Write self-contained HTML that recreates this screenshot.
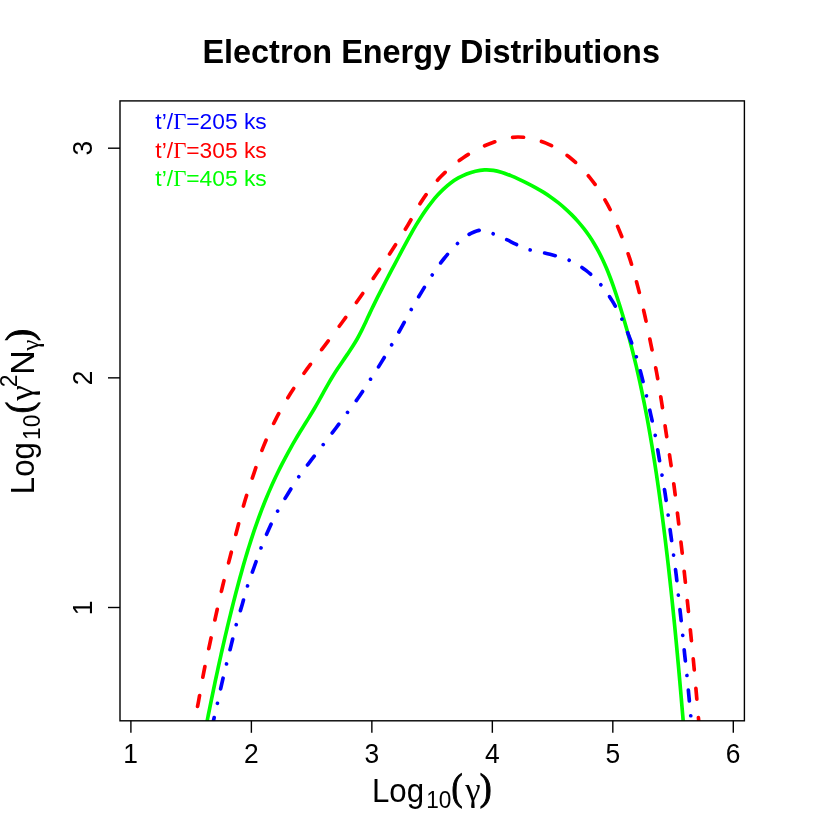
<!DOCTYPE html>
<html><head><meta charset="utf-8"><title>Electron Energy Distributions</title>
<style>
html,body{margin:0;padding:0;background:#fff;}
svg{display:block;will-change:transform;}
text{font-family:"Liberation Sans",sans-serif;fill:#000;}
text.sym{font-family:"Liberation Serif",serif;}
</style></head><body>
<svg width="822" height="822" viewBox="0 0 822 822">
<rect x="0" y="0" width="822" height="822" fill="#ffffff"/>
<defs><clipPath id="clip"><rect x="120.0" y="100.9" width="624.40" height="620.20"/></clipPath></defs>
<g clip-path="url(#clip)" fill="none" stroke-width="3.67" stroke-linecap="round" stroke-linejoin="round">
<path d="M206.15,725.98 C206.44,724.49 207.33,720.00 207.93,717.01 C208.52,714.02 209.12,711.03 209.73,708.05 C210.33,705.06 210.94,702.07 211.55,699.09 C212.16,696.11 212.78,693.13 213.40,690.15 C214.02,687.16 214.64,684.19 215.27,681.21 C215.90,678.23 216.54,675.25 217.18,672.28 C217.82,669.31 218.47,666.33 219.12,663.36 C219.77,660.39 220.43,657.42 221.09,654.45 C221.75,651.48 222.42,648.52 223.10,645.55 C223.77,642.58 224.46,639.62 225.15,636.66 C225.84,633.69 226.53,630.73 227.24,627.77 C227.94,624.81 228.65,621.85 229.37,618.90 C230.09,615.94 230.81,612.99 231.55,610.03 C232.28,607.08 233.02,604.13 233.77,601.17 C234.52,598.22 235.28,595.27 236.05,592.33 C236.82,589.38 237.60,586.43 238.38,583.49 C239.17,580.54 239.97,577.60 240.78,574.66 C241.59,571.72 242.41,568.79 243.25,565.86 C244.09,562.93 244.94,560.00 245.80,557.08 C246.67,554.16 247.55,551.24 248.45,548.33 C249.35,545.42 250.27,542.51 251.20,539.62 C252.14,536.72 253.09,533.83 254.07,530.94 C255.05,528.06 256.04,525.18 257.06,522.32 C258.08,519.45 259.12,516.59 260.19,513.74 C261.25,510.89 262.34,508.05 263.46,505.22 C264.58,502.39 265.72,499.57 266.89,496.77 C268.05,493.96 269.25,491.16 270.48,488.38 C271.70,485.59 272.95,482.82 274.23,480.06 C275.51,477.30 276.82,474.55 278.16,471.81 C279.49,469.08 280.85,466.35 282.24,463.64 C283.63,460.94 285.04,458.24 286.48,455.56 C287.92,452.87 289.38,450.20 290.87,447.55 C292.36,444.89 293.88,442.25 295.42,439.63 C296.96,437.00 298.53,434.39 300.11,431.79 C301.69,429.19 303.32,426.62 304.92,424.03 C306.53,421.45 308.15,418.88 309.74,416.29 C311.32,413.69 312.90,411.09 314.43,408.47 C315.96,405.84 317.45,403.19 318.94,400.54 C320.43,397.89 321.89,395.22 323.37,392.56 C324.86,389.90 326.33,387.23 327.85,384.59 C329.36,381.95 330.89,379.32 332.48,376.72 C334.07,374.13 335.71,371.56 337.38,369.01 C339.05,366.47 340.79,363.96 342.51,361.44 C344.22,358.92 345.98,356.42 347.68,353.90 C349.38,351.37 351.08,348.85 352.71,346.28 C354.34,343.71 355.93,341.12 357.43,338.48 C358.93,335.83 360.33,333.13 361.69,330.41 C363.06,327.69 364.34,324.91 365.64,322.16 C366.93,319.40 368.19,316.61 369.49,313.86 C370.79,311.10 372.10,308.36 373.43,305.62 C374.76,302.88 376.11,300.16 377.47,297.44 C378.83,294.73 380.20,292.02 381.58,289.31 C382.97,286.61 384.36,283.91 385.76,281.22 C387.17,278.52 388.58,275.83 389.99,273.14 C391.41,270.45 392.83,267.77 394.26,265.08 C395.68,262.39 397.11,259.70 398.54,257.00 C399.96,254.31 401.39,251.61 402.82,248.91 C404.26,246.22 405.69,243.52 407.15,240.83 C408.61,238.15 410.07,235.47 411.58,232.81 C413.08,230.16 414.60,227.51 416.17,224.90 C417.74,222.29 419.33,219.70 420.98,217.15 C422.64,214.60 424.33,212.08 426.09,209.61 C427.85,207.14 429.65,204.70 431.54,202.32 C433.42,199.95 435.36,197.60 437.40,195.36 C439.44,193.11 441.54,190.91 443.76,188.85 C445.98,186.79 448.28,184.81 450.71,183.00 C453.13,181.18 455.67,179.47 458.33,177.97 C460.99,176.46 463.80,175.09 466.66,173.96 C469.51,172.83 472.48,171.87 475.44,171.20 C478.40,170.52 481.43,170.06 484.41,169.91 C487.40,169.77 490.40,169.90 493.36,170.32 C496.31,170.74 499.23,171.54 502.13,172.42 C505.02,173.31 507.88,174.49 510.72,175.65 C513.56,176.81 516.37,178.08 519.15,179.36 C521.93,180.63 524.69,181.94 527.41,183.30 C530.13,184.67 532.82,186.07 535.47,187.54 C538.12,189.01 540.74,190.53 543.31,192.14 C545.88,193.74 548.42,195.40 550.90,197.15 C553.38,198.90 555.82,200.72 558.21,202.62 C560.59,204.52 562.93,206.50 565.20,208.54 C567.47,210.58 569.69,212.70 571.84,214.87 C573.99,217.05 576.08,219.29 578.10,221.59 C580.11,223.88 582.06,226.24 583.93,228.65 C585.79,231.05 587.59,233.52 589.30,236.02 C591.01,238.53 592.63,241.09 594.19,243.69 C595.74,246.28 597.22,248.93 598.63,251.60 C600.05,254.28 601.39,256.99 602.68,259.73 C603.98,262.48 605.20,265.25 606.39,268.05 C607.57,270.85 608.70,273.68 609.80,276.52 C610.90,279.36 611.94,282.23 612.97,285.10 C613.99,287.98 614.97,290.87 615.94,293.77 C616.91,296.66 617.84,299.57 618.77,302.48 C619.69,305.39 620.60,308.31 621.49,311.23 C622.38,314.14 623.25,317.07 624.10,319.99 C624.96,322.92 625.80,325.85 626.62,328.78 C627.44,331.72 628.25,334.65 629.04,337.59 C629.83,340.54 630.61,343.48 631.37,346.43 C632.13,349.38 632.87,352.33 633.61,355.28 C634.34,358.24 635.05,361.19 635.76,364.15 C636.46,367.11 637.15,370.08 637.82,373.04 C638.50,376.01 639.16,378.98 639.81,381.95 C640.46,384.92 641.10,387.90 641.72,390.88 C642.35,393.85 642.96,396.83 643.56,399.82 C644.17,402.80 644.75,405.78 645.33,408.77 C645.91,411.76 646.48,414.75 647.04,417.74 C647.59,420.73 648.14,423.72 648.68,426.72 C649.22,429.72 649.74,432.71 650.26,435.71 C650.78,438.71 651.29,441.71 651.78,444.72 C652.28,447.72 652.78,450.72 653.26,453.73 C653.74,456.74 654.21,459.74 654.68,462.75 C655.15,465.76 655.61,468.77 656.06,471.78 C656.51,474.79 656.96,477.80 657.39,480.82 C657.83,483.83 658.26,486.85 658.69,489.86 C659.12,492.88 659.54,495.89 659.95,498.91 C660.37,501.93 660.77,504.94 661.18,507.96 C661.58,510.98 661.98,514.00 662.38,517.02 C662.77,520.04 663.16,523.06 663.54,526.08 C663.93,529.10 664.30,532.12 664.68,535.14 C665.05,538.16 665.42,541.18 665.79,544.21 C666.15,547.23 666.51,550.25 666.87,553.28 C667.23,556.30 667.58,559.33 667.93,562.35 C668.27,565.38 668.62,568.40 668.96,571.43 C669.30,574.45 669.63,577.48 669.96,580.51 C670.30,583.53 670.62,586.56 670.95,589.59 C671.27,592.61 671.59,595.64 671.91,598.67 C672.23,601.70 672.54,604.73 672.85,607.76 C673.16,610.79 673.47,613.82 673.77,616.85 C674.07,619.88 674.37,622.91 674.67,625.94 C674.97,628.97 675.26,632.00 675.55,635.03 C675.85,638.06 676.13,641.09 676.42,644.12 C676.71,647.15 676.99,650.18 677.27,653.22 C677.55,656.25 677.83,659.28 678.10,662.31 C678.38,665.34 678.65,668.38 678.92,671.41 C679.20,674.44 679.46,677.47 679.73,680.51 C680.00,683.54 680.26,686.57 680.53,689.61 C680.79,692.64 681.05,695.67 681.31,698.71 C681.57,701.74 681.83,704.77 682.08,707.80 C682.34,710.84 682.60,713.87 682.85,716.90 C683.10,719.94 683.48,724.49 683.61,726.01" stroke="#00ff00"/>
<path d="M197.40,707.20 C197.60,706.17 197.53,706.85 198.60,701.00 C199.67,695.15 201.92,681.70 203.80,672.10 C205.68,662.50 207.87,652.93 209.90,643.40 C211.93,633.87 213.88,624.43 216.00,614.90 C218.12,605.37 220.28,595.73 222.60,586.20 C224.92,576.67 227.47,567.20 229.90,557.70 C232.33,548.20 234.67,538.77 237.20,529.20 C239.73,519.63 242.28,509.70 245.10,500.30 C247.92,490.90 250.98,481.92 254.10,472.80 C257.22,463.68 260.15,454.60 263.80,445.60 C267.45,436.60 271.53,427.52 276.00,418.80 C280.47,410.08 285.42,401.62 290.60,393.30 C295.78,384.98 301.35,376.93 307.10,368.90 C312.85,360.87 319.22,352.92 325.10,345.10 C330.98,337.28 336.68,329.82 342.40,322.00 C348.12,314.18 353.73,306.23 359.40,298.20 C365.07,290.17 370.88,281.92 376.40,273.80 C381.92,265.68 387.22,257.68 392.50,249.50 C397.78,241.32 403.07,233.02 408.10,224.70 C413.13,216.38 417.23,207.63 422.70,199.60 C428.17,191.57 434.08,183.52 440.90,176.50 C447.72,169.48 455.48,162.97 463.60,157.50 C471.72,152.03 480.58,147.12 489.60,143.70 C498.62,140.28 508.32,137.10 517.70,137.00 C527.08,136.90 537.07,139.57 545.90,143.10 C554.73,146.63 563.12,152.12 570.70,158.20 C578.28,164.28 585.32,171.98 591.40,179.60 C597.48,187.22 602.53,195.38 607.20,203.90 C611.87,212.42 615.67,221.65 619.40,230.70 C623.13,239.75 626.57,249.00 629.60,258.20 C632.63,267.40 635.08,276.43 637.60,285.90 C640.12,295.37 642.50,305.35 644.70,315.00 C646.90,324.65 648.82,334.22 650.80,343.80 C652.78,353.38 654.82,362.88 656.60,372.50 C658.38,382.12 659.97,391.80 661.50,401.50 C663.03,411.20 664.35,421.05 665.80,430.70 C667.25,440.35 668.77,449.75 670.20,459.40 C671.63,469.05 673.10,478.87 674.40,488.60 C675.70,498.33 676.82,508.08 678.00,517.80 C679.18,527.52 680.38,537.18 681.50,546.90 C682.62,556.62 683.65,566.37 684.70,576.10 C685.75,585.83 686.78,595.57 687.80,605.30 C688.82,615.03 689.82,624.77 690.80,634.50 C691.78,644.23 692.78,653.95 693.70,663.70 C694.62,673.45 695.50,683.88 696.30,693.00 C697.10,702.12 698.02,712.90 698.50,718.40 C698.98,723.90 699.08,724.73 699.20,726.00" stroke="#ff0000" stroke-dasharray="11.01 18.35" stroke-dashoffset="-0.87"/>
<path d="M212.30,726.00 C212.62,724.57 213.35,721.17 214.20,717.40 C215.05,713.63 216.13,709.03 217.40,703.40 C218.67,697.77 220.28,690.17 221.80,683.60 C223.32,677.03 224.92,670.50 226.50,664.00 C228.08,657.50 229.68,651.12 231.30,644.60 C232.92,638.08 234.42,631.47 236.20,624.90 C237.98,618.33 240.10,611.73 242.00,605.20 C243.90,598.67 245.57,592.07 247.60,585.70 C249.63,579.33 251.97,573.28 254.20,567.00 C256.43,560.72 258.57,554.30 261.00,548.00 C263.43,541.70 266.02,535.37 268.80,529.20 C271.58,523.03 274.48,516.95 277.70,511.00 C280.92,505.05 284.62,499.17 288.10,493.50 C291.58,487.83 294.82,482.47 298.60,477.00 C302.38,471.53 306.67,466.13 310.80,460.70 C314.93,455.27 319.27,449.77 323.40,444.40 C327.53,439.03 331.62,433.78 335.60,428.50 C339.58,423.22 343.33,418.08 347.30,412.70 C351.27,407.32 355.55,401.75 359.40,396.20 C363.25,390.65 366.75,385.03 370.40,379.40 C374.05,373.77 377.78,368.12 381.30,362.40 C384.82,356.68 388.13,350.95 391.50,345.10 C394.87,339.25 398.22,333.22 401.50,327.30 C404.78,321.38 407.87,315.47 411.20,309.60 C414.53,303.73 418.00,297.87 421.50,292.10 C425.00,286.33 428.43,280.60 432.20,275.00 C435.97,269.40 439.90,263.73 444.10,258.50 C448.30,253.27 453.32,247.57 457.40,243.60 C461.48,239.63 465.83,236.63 468.60,234.70 C471.37,232.77 472.28,232.72 474.00,232.00 C475.72,231.28 477.40,230.70 478.90,230.40 C480.40,230.10 481.48,230.00 483.00,230.20 C484.52,230.40 486.33,231.02 488.00,231.60 C489.67,232.18 489.95,232.38 493.00,233.70 C496.05,235.02 502.40,237.72 506.30,239.50 C510.20,241.28 512.45,242.67 516.40,244.40 C520.35,246.13 524.40,248.25 530.00,249.90 C535.60,251.55 543.53,252.60 550.00,254.30 C556.47,256.00 562.80,257.42 568.80,260.10 C574.80,262.78 580.70,266.33 586.00,270.40 C591.30,274.47 596.20,279.38 600.60,284.50 C605.00,289.62 608.88,295.38 612.40,301.10 C615.92,306.82 618.88,312.72 621.75,318.80 C624.62,324.88 627.19,331.33 629.60,337.60 C632.01,343.87 634.22,350.10 636.20,356.40 C638.18,362.70 639.80,368.87 641.50,375.40 C643.20,381.93 644.85,389.03 646.40,395.60 C647.95,402.17 649.35,408.32 650.80,414.80 C652.25,421.28 653.82,427.88 655.10,434.50 C656.38,441.12 657.37,447.83 658.50,454.50 C659.63,461.17 660.80,468.02 661.90,474.50 C663.00,480.98 664.08,486.82 665.10,493.40 C666.12,499.98 667.05,507.12 668.00,514.00 C668.95,520.88 669.88,527.92 670.80,534.70 C671.72,541.48 672.60,548.00 673.50,554.70 C674.40,561.40 675.40,568.22 676.20,574.90 C677.00,581.58 677.58,588.20 678.30,594.80 C679.02,601.40 679.77,607.80 680.50,614.50 C681.23,621.20 682.00,628.30 682.70,635.00 C683.40,641.70 684.00,648.03 684.70,654.70 C685.40,661.37 686.22,668.28 686.90,675.00 C687.58,681.72 688.17,688.32 688.80,695.00 C689.43,701.68 690.22,709.93 690.70,715.10 C691.18,720.27 691.53,724.18 691.70,726.00" stroke="#0000ff" stroke-dasharray="0.01 14.68 11.01 14.68" stroke-dashoffset="17.09"/>
</g>
<g stroke="#000" stroke-width="1.4" fill="none" stroke-linecap="butt">
<rect x="120.0" y="100.9" width="624.40" height="619.90"/>
<path d="M130.90,720.8 v12"/>
<path d="M251.38,720.8 v12"/>
<path d="M371.86,720.8 v12"/>
<path d="M492.34,720.8 v12"/>
<path d="M612.82,720.8 v12"/>
<path d="M733.30,720.8 v12"/>
<path d="M120.0,607.50 h-12"/>
<path d="M120.0,377.85 h-12"/>
<path d="M120.0,148.20 h-12"/>
</g>
<text transform="translate(123.20,763.30) scale(1.0000,1.0600)" font-size="26.4">1</text>
<text transform="translate(244.04,763.30) scale(1.0000,1.0600)" font-size="26.4">2</text>
<text transform="translate(364.60,763.30) scale(1.0000,1.0600)" font-size="26.4">3</text>
<text transform="translate(485.08,763.30) scale(1.0000,1.0600)" font-size="26.4">4</text>
<text transform="translate(605.50,763.30) scale(1.0000,1.0600)" font-size="26.4">5</text>
<text transform="translate(725.87,763.30) scale(1.0000,1.0600)" font-size="26.4">6</text>
<text transform="translate(91.90,615.20) rotate(-90) scale(1.0000,1.0600)" font-size="26.4">1</text>
<text transform="translate(91.90,385.19) rotate(-90) scale(1.0000,1.0600)" font-size="26.4">2</text>
<text transform="translate(91.90,155.46) rotate(-90) scale(1.0000,1.0600)" font-size="26.4">3</text>
<text transform="translate(202.43,62.50) scale(1.0132,1.0350)" font-size="32.0" font-weight="bold">Electron Energy Distributions</text>
<text transform="translate(155.35,129.30) scale(1.0000,1.0000)" font-size="22.8" style="fill:#0000ff">t’/</text>
<text transform="translate(173.14,129.30) scale(0.9922,1.0000)" font-size="23.0" class="sym" style="fill:#0000ff">Γ</text>
<text transform="translate(186.29,129.30) scale(0.9993,1.0000)" font-size="22.8" style="fill:#0000ff">=205 ks</text>
<text transform="translate(155.35,157.50) scale(1.0000,1.0000)" font-size="22.8" style="fill:#ff0000">t’/</text>
<text transform="translate(173.14,157.50) scale(0.9922,1.0000)" font-size="23.0" class="sym" style="fill:#ff0000">Γ</text>
<text transform="translate(186.29,157.50) scale(0.9993,1.0000)" font-size="22.8" style="fill:#ff0000">=305 ks</text>
<text transform="translate(155.35,185.50) scale(1.0000,1.0000)" font-size="22.8" style="fill:#00ff00">t’/</text>
<text transform="translate(173.14,185.50) scale(0.9922,1.0000)" font-size="23.0" class="sym" style="fill:#00ff00">Γ</text>
<text transform="translate(186.29,185.50) scale(0.9993,1.0000)" font-size="22.8" style="fill:#00ff00">=405 ks</text>
<text transform="translate(371.94,801.80) scale(1.0003,1.0850)" font-size="31.2">Log</text>
<text transform="translate(426.17,808.10) scale(1.0378,1.0850)" font-size="21.84">10</text>
<text transform="translate(451.45,800.40) scale(0.8709,1.0000)" font-size="38" class="sym" style="stroke:#000;stroke-width:1.0">(</text>
<text transform="translate(465.15,801.30) scale(1.0008,1.0000)" font-size="34.7" class="sym">γ</text>
<text transform="translate(479.85,800.40) scale(0.9426,1.0000)" font-size="38" class="sym" style="stroke:#000;stroke-width:1.0">)</text>
<text transform="translate(33.50,494.16) rotate(-90) scale(1.0003,1.0850)" font-size="31.2">Log</text>
<text transform="translate(39.80,439.93) rotate(-90) scale(1.0378,1.0850)" font-size="21.84">10</text>
<text transform="translate(32.10,413.22) rotate(-90) scale(0.9119,1.0000)" font-size="38" class="sym" style="stroke:#000;stroke-width:1.0">(</text>
<text transform="translate(33.00,400.65) rotate(-90) scale(1.0077,1.0000)" font-size="34.7" class="sym">γ</text>
<text transform="translate(17.40,387.15) rotate(-90) scale(1.0453,1.0850)" font-size="21.84">2</text>
<text transform="translate(33.50,374.78) rotate(-90) scale(1.0845,1.0850)" font-size="31.2">N</text>
<text transform="translate(38.80,350.76) rotate(-90) scale(1.0282,1.0000)" font-size="24.29" class="sym">γ</text>
<text transform="translate(32.10,341.07) rotate(-90) scale(0.9529,1.0000)" font-size="38" class="sym" style="stroke:#000;stroke-width:1.0">)</text>
</svg>
</body></html>
